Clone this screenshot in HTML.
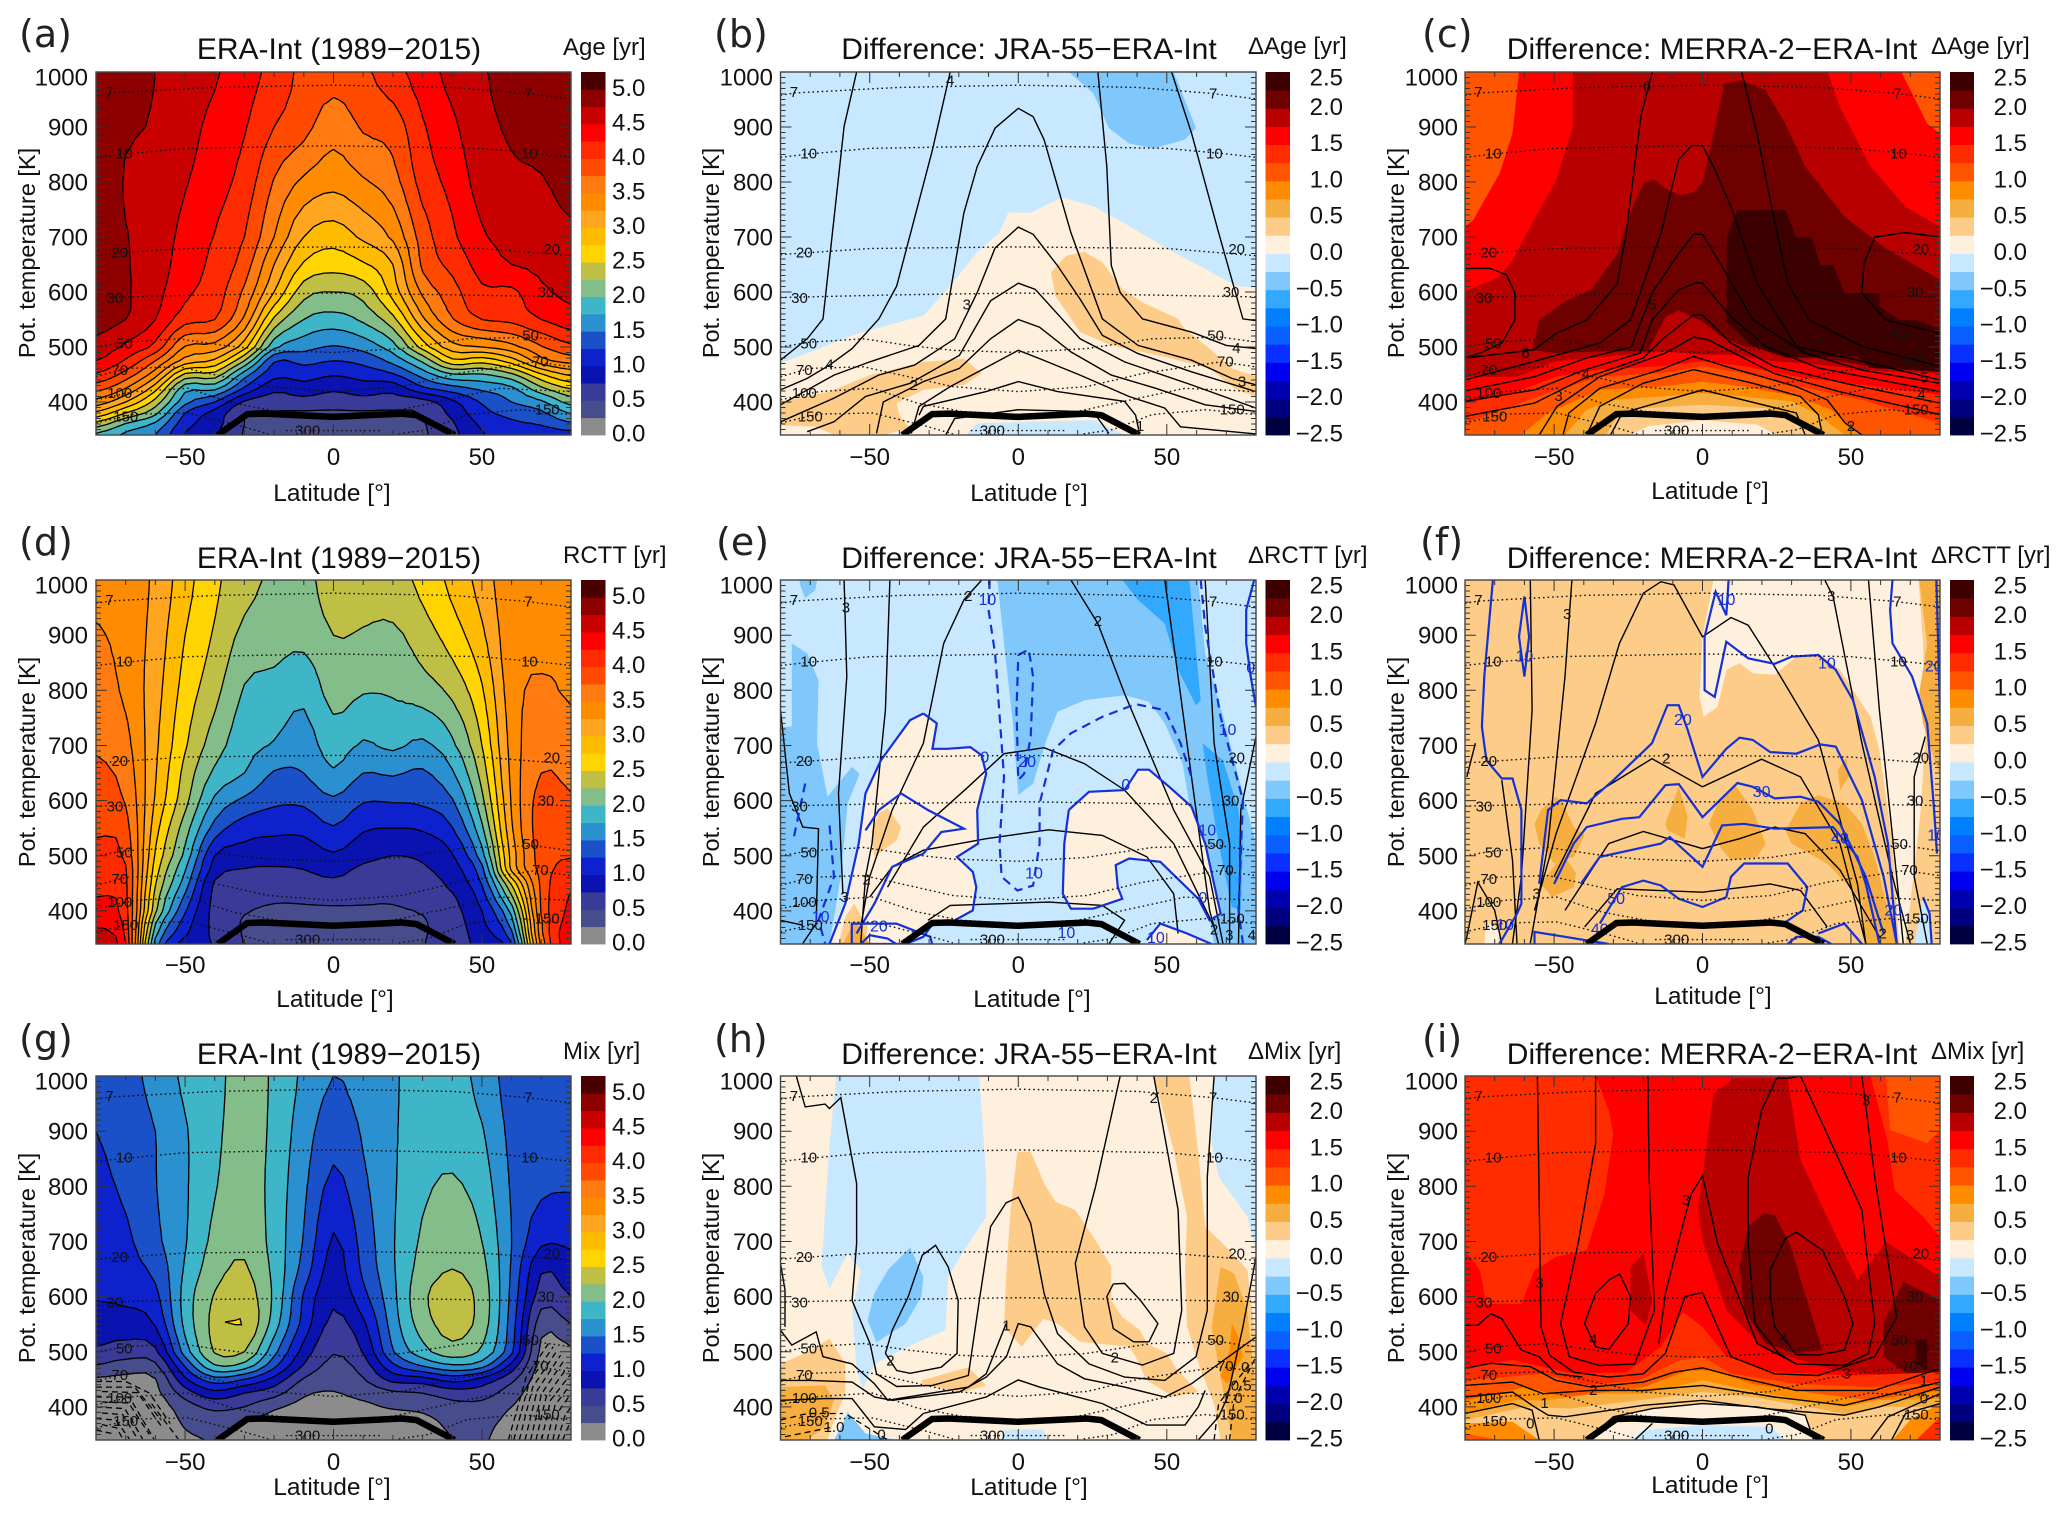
<!DOCTYPE html>
<html lang="en">
<head>
<meta charset="utf-8">
<title>Age of air, RCTT and aging by mixing: ERA-Int and differences</title>
<style>
html,body{margin:0;padding:0;background:#fff}
svg{display:block}
text{font-family:"Liberation Sans",sans-serif;fill:#111}
.ltr{font-family:"DejaVu Sans",sans-serif;font-size:38px;fill:#222}
.ttl{font-size:30px;text-anchor:middle}
.unit{font-size:24px}
.axl{font-size:24.5px;text-anchor:middle}
.axy{font-size:23.5px;text-anchor:middle}
.tick{font-size:24px}
.iso{font-size:15px;text-anchor:middle;fill:#111}
.blue{font-size:16px;text-anchor:middle;fill:#1430d8}
</style>
</head>
<body>
<svg id="fig" xmlns="http://www.w3.org/2000/svg" width="2067" height="1518" viewBox="0 0 2067 1518">
<rect width="2067" height="1518" fill="#fff"/>
<g id="plots"></g>

<g>
<text class="ltr" x="19" y="47">(a)</text>
<text class="ttl" x="339" y="59">ERA-Int (1989−2015)</text>
<text class="unit" x="563" y="55">Age [yr]</text>
<text class="axl" x="332" y="501">Latitude [°]</text>
<text class="axy" transform="translate(35,253) rotate(-90)">Pot. temperature [K]</text>
</g>
<g>
<text class="ltr" x="714" y="47">(b)</text>
<text class="ttl" x="1029" y="59">Difference: JRA-55−ERA-Int</text>
<text class="unit" x="1248" y="54">ΔAge [yr]</text>
<text class="axl" x="1029" y="501">Latitude [°]</text>
<text class="axy" transform="translate(719,253) rotate(-90)">Pot. temperature [K]</text>
</g>
<g>
<text class="ltr" x="1422" y="47">(c)</text>
<text class="ttl" x="1712" y="59">Difference: MERRA-2−ERA-Int</text>
<text class="unit" x="1931" y="54">ΔAge [yr]</text>
<text class="axl" x="1710" y="499">Latitude [°]</text>
<text class="axy" transform="translate(1404,253) rotate(-90)">Pot. temperature [K]</text>
</g>
<g>
<text class="ltr" x="19" y="555">(d)</text>
<text class="ttl" x="339" y="568">ERA-Int (1989−2015)</text>
<text class="unit" x="563" y="563">RCTT [yr]</text>
<text class="axl" x="335" y="1007">Latitude [°]</text>
<text class="axy" transform="translate(35,762) rotate(-90)">Pot. temperature [K]</text>
</g>
<g>
<text class="ltr" x="716" y="555">(e)</text>
<text class="ttl" x="1029" y="568">Difference: JRA-55−ERA-Int</text>
<text class="unit" x="1248" y="563">ΔRCTT [yr]</text>
<text class="axl" x="1032" y="1007">Latitude [°]</text>
<text class="axy" transform="translate(719,762) rotate(-90)">Pot. temperature [K]</text>
</g>
<g>
<text class="ltr" x="1420" y="555">(f)</text>
<text class="ttl" x="1712" y="568">Difference: MERRA-2−ERA-Int</text>
<text class="unit" x="1931" y="563">ΔRCTT [yr]</text>
<text class="axl" x="1713" y="1004">Latitude [°]</text>
<text class="axy" transform="translate(1404,762) rotate(-90)">Pot. temperature [K]</text>
</g>
<g>
<text class="ltr" x="19" y="1052">(g)</text>
<text class="ttl" x="339" y="1064">ERA-Int (1989−2015)</text>
<text class="unit" x="563" y="1059">Mix [yr]</text>
<text class="axl" x="332" y="1495">Latitude [°]</text>
<text class="axy" transform="translate(35,1258) rotate(-90)">Pot. temperature [K]</text>
</g>
<g>
<text class="ltr" x="714" y="1052">(h)</text>
<text class="ttl" x="1029" y="1064">Difference: JRA-55−ERA-Int</text>
<text class="unit" x="1248" y="1059">ΔMix [yr]</text>
<text class="axl" x="1029" y="1495">Latitude [°]</text>
<text class="axy" transform="translate(719,1258) rotate(-90)">Pot. temperature [K]</text>
</g>
<g>
<text class="ltr" x="1422" y="1052">(i)</text>
<text class="ttl" x="1712" y="1064">Difference: MERRA-2−ERA-Int</text>
<text class="unit" x="1931" y="1059">ΔMix [yr]</text>
<text class="axl" x="1710" y="1493">Latitude [°]</text>
<text class="axy" transform="translate(1404,1258) rotate(-90)">Pot. temperature [K]</text>
</g>
</svg>

<script>
/* ---------- shared axes and tick data ---------- */
const latitudes=[-80,-70,-60,-50,-40,-30,-20,-10,0,10,20,30,40,50,60,70,80];
const thetaLevels=[340,360,380,400,425,450,475,500,550,600,650,700,800,900,1000];
const xTickValues=[-50,0,50];
const xTickLabels=["−50","0","50"];
const yTickValues=[400,500,600,700,800,900,1000];
const seqTickValues=[0,0.5,1,1.5,2,2.5,3,3.5,4,4.5,5];
const seqTickLabels=["0.0","0.5","1.0","1.5","2.0","2.5","3.0","3.5","4.0","4.5","5.0"];
const divTickValues=[-2.5,-2,-1.5,-1,-0.5,0,0.5,1,1.5,2,2.5];
const divTickLabels=["−2.5","−2.0","−1.5","−1.0","−0.5","0.0","0.5","1.0","1.5","2.0","2.5"];
const seqColors=["#8c8c8c","#474c8c","#3a3a98","#0a12b0","#0d22cc","#1a50c8","#2a90d0","#3fb5c8","#82bd8a","#bfbf45","#ffd400","#ffbb00","#ffa520","#ff8c00","#ff7a10","#ff4a00","#ff2a00","#ff0000","#c80000","#8e0000","#4a0000"];
const divColors=["#000040","#000080","#0000b0","#0000f0","#0a30ff","#0a60ff","#0080ff","#33a8ff","#80c8fb","#c8e8ff","#fef0dc","#fdcc88","#f5ae3f","#ff8c00","#ff5500","#ff2c00","#ff0000","#b80000","#6e0000","#3d0000"];

/* ---------- pressure isolines (lat, theta pairs) and their labels (hPa) ---------- */
const pressureLines=[
[-80,958,-75,962,-40,972,0,976,40,972,65,961,80,951],
[-80,845,-70,851,-50,861,0,866,50,861,70,851,80,845],
[-80,668,-50,679,0,682,50,679,80,666],
[-80,590,-40,595,0,598,40,595,80,591],
[-80,500,-70,509,-52,515,-37,503,-22,494,0,490,23,497,45,515,68,518,80,509],
[-80,446,-70,461,-52,464,-37,446,-22,428,0,419,23,428,42,452,68,473,80,464],
[-80,404,-67,419,-49,425,-34,398,-19,383,0,377,20,383,38,404,56,425,80,419],
[-80,362,-67,378,-49,380,-31,356,-22,342],
[22,342,32,350,45,377,63,386,80,377],
[-16,348,16,348]];
const pressureLabelText=["7","10","20","30","50","70","100","150","300","7","10","20","30","50","70","150"];
const pressureLabelLat=[-75.5,-70.5,-72,-73.6,-70.5,-72,-72,-70,-8.7,65.6,66,73.5,71.6,66.4,69.7,72];
const pressureLabelTheta=[964,852,672,589,506,458,416,374,348,961,852,678,600,521,474,386];
const tropopauseLats=[-39,-29,-23.5,0,23,28,40.8];
const tropopauseThetas=[340,378,379,373,379,376,340];

/* ---------- ERA-Int fields: one row per latitude, one value per theta level ---------- */
const ageField=[
[1.95,2.4,2.95,3.4,3.85,4.22,4.5,4.67,4.85,4.9,4.92,4.92,4.95,4.9,4.9],
[1.7,1.98,2.5,3.0,3.5,3.9,4.22,4.45,4.75,4.78,4.77,4.76,4.73,4.78,4.83],
[1.5,1.7,2.07,2.4,2.85,3.35,3.75,4.17,4.5,4.58,4.62,4.65,4.7,4.73,4.75],
[.98,1.1,1.25,1.58,1.85,2.45,3.15,3.48,4.1,4.3,4.38,4.42,4.52,4.6,4.65],
[.78,.85,.92,1.25,1.82,2.4,2.95,3.4,4.0,4.12,4.18,4.24,4.35,4.42,4.53],
[.48,.5,.52,.72,1.22,1.62,2.25,2.85,3.45,3.7,3.88,4.0,4.15,4.27,4.35],
[.42,.45,.48,.62,.82,1.08,1.28,1.82,2.45,3.0,3.25,3.5,3.73,4.0,4.17],
[.38,.4,.47,.65,.9,1.1,1.33,1.6,2.0,2.35,2.72,3.0,3.45,3.83,3.93],
[.35,.4,.47,.6,.8,1.02,1.25,1.48,1.9,2.25,2.6,2.87,3.33,3.6,3.85],
[.38,.4,.47,.65,.88,1.1,1.33,1.6,2.05,2.35,2.72,3.05,3.47,3.78,3.95],
[.42,.45,.47,.62,.85,1.22,1.58,1.9,2.42,2.85,3.0,3.3,3.65,3.86,4.15],
[.47,.48,.52,.65,1.2,1.6,2.05,2.6,3.2,3.55,3.8,3.87,4.1,4.22,4.38],
[.68,.72,.82,.95,1.4,1.97,2.68,3.15,3.73,3.9,4.07,4.2,4.33,4.45,4.58],
[.98,1.05,1.17,1.28,1.56,1.98,2.6,3.25,4.0,4.2,4.35,4.47,4.6,4.68,4.73],
[1.1,1.2,1.33,1.5,1.7,2.2,2.88,3.42,4.07,4.2,4.5,4.58,4.7,4.78,4.82],
[1.1,1.27,1.45,1.7,2.2,2.72,3.4,3.73,4.25,4.45,4.56,4.62,4.73,4.85,4.9],
[1.15,1.45,1.77,2.1,2.52,3.05,3.6,3.95,4.4,4.55,4.62,4.7,4.85,4.95,4.98]];
const rcttField=[
[4.6,4.55,4.45,4.35,4.25,4.17,4.1,4.05,3.97,3.87,3.8,3.72,3.62,3.52,3.45],
[4.25,4.2,4.15,4.1,4.07,4.05,4.02,3.95,3.85,3.73,3.65,3.58,3.45,3.42,3.4],
[1.65,1.85,2.05,2.3,2.4,2.52,2.62,2.72,2.85,2.97,3.02,3.05,3.1,3.15,3.2],
[.9,1.05,1.15,1.28,1.45,1.63,1.77,1.93,2.12,2.33,2.42,2.53,2.65,2.75,2.85],
[.74,.7,.68,.67,.68,.72,.88,1.0,1.4,1.7,1.95,2.12,2.33,2.47,2.55],
[.49,.48,.48,.52,.6,.66,.74,.9,1.12,1.45,1.75,1.85,1.98,2.18,2.35],
[.33,.37,.42,.46,.54,.63,.73,.84,1.07,1.3,1.48,1.73,1.92,2.1,2.2],
[.38,.4,.43,.46,.55,.65,.75,.85,1.07,1.3,1.5,1.63,1.82,2.07,2.17],
[.35,.38,.42,.46,.58,.7,.83,.97,1.23,1.46,1.72,1.87,2.1,2.25,2.38],
[.36,.39,.42,.47,.55,.65,.7,.84,1.03,1.27,1.5,1.72,2.02,2.23,2.33],
[.4,.42,.45,.48,.53,.62,.68,.75,1.0,1.27,1.53,1.8,2.03,2.2,2.4],
[.49,.48,.48,.52,.6,.65,.72,.8,1.03,1.3,1.47,1.7,2.13,2.38,2.57],
[.63,.63,.65,.68,.72,.82,.9,.98,1.24,1.48,1.72,1.95,2.32,2.62,2.82],
[.85,.9,.95,1.0,1.12,1.27,1.42,1.65,1.95,2.18,2.35,2.5,2.72,2.95,3.1],
[1.25,1.45,1.65,1.85,2.2,2.55,3.05,3.1,3.22,3.28,3.32,3.35,3.4,3.42,3.45],
[3.6,3.7,3.72,3.78,3.8,3.82,3.85,3.87,3.88,3.85,3.75,3.65,3.53,3.45,3.45],
[4.45,4.42,4.35,4.3,4.27,4.2,4.1,3.98,3.87,3.78,3.68,3.6,3.47,3.46,3.45]];
const mixField=[
[.1,.1,.1,.1,.15,.22,.49,.72,.87,1.02,1.08,1.12,1.18,1.25,1.35],
[.1,.1,.1,.1,.15,.2,.38,.65,.87,1.06,1.15,1.2,1.3,1.38,1.42],
[.1,.1,.1,.12,.18,.24,.45,.7,1.02,1.18,1.32,1.44,1.49,1.5,1.58],
[.2,.25,.3,.38,.62,.95,1.28,1.62,1.82,1.85,1.78,1.73,1.72,1.73,1.8],
[.25,.33,.42,.57,.92,1.4,1.98,2.27,2.33,2.27,2.15,2.07,1.98,1.93,1.9],
[.1,.18,.3,.5,.75,1.25,1.9,2.25,2.48,2.38,2.28,2.2,2.15,2.15,2.15],
[.05,.1,.18,.3,.6,.92,1.32,1.58,1.87,1.95,1.93,1.9,1.9,1.93,1.95],
[.1,.1,.13,.18,.29,.48,.73,.9,1.15,1.22,1.4,1.48,1.55,1.62,1.7],
[.1,.1,.12,.18,.24,.32,.43,.52,.68,.8,.9,.97,1.18,1.35,1.5],
[.1,.1,.13,.2,.32,.48,.62,.77,.95,1.17,1.3,1.35,1.45,1.53,1.6],
[.05,.08,.15,.28,.45,.83,1.2,1.48,1.62,1.68,1.72,1.73,1.72,1.72,1.72],
[.02,.08,.2,.32,.5,.9,1.52,1.9,2.12,2.2,2.1,2.04,1.95,1.88,1.85],
[.25,.3,.35,.42,.63,1.1,1.72,2.15,2.35,2.35,2.25,2.17,2.03,1.92,1.88],
[.3,.33,.38,.42,.62,.93,1.6,1.95,2.13,2.15,2.08,2.0,1.88,1.77,1.65],
[.05,.1,.18,.25,.36,.57,.92,1.3,1.38,1.43,1.47,1.5,1.47,1.43,1.4],
[.05,.07,.08,.1,.1,.12,.15,.18,.35,.62,.78,1.05,1.3,1.35,1.35],
[.05,.05,.07,.08,.1,.12,.15,.2,.5,.75,.9,1.05,1.27,1.32,1.35]];
/* narrow isolated maximum in panel g: value band, then lat/theta ring */
const mixPeakBandValue=2.5;
const mixPeak=[-36.5,554,-33,557,-31.5,560,-31,549,-33,549];
/* dashed low-value hatching in the grey parts of panel g */
const mixDashedLines=[
[-80,436,-67,436,-58,376],[-80,418,-68.8,418,-60.5,342],[-80,400,-70.3,397,-64.3,342],[-80,379,-73.3,376,-68.8,342],[-80,358,-74.8,352],[-61.3,406,-52.3,342],
[-80,446,-70,446,-62,425,-55,370],[-78,428,-66,426,-58,365],[-78,409,-69,407,-62,350],[-78,389,-71,386,-66,342],[-78,368,-73,362,-71,342],
[58.9,340,64.9,454,72.4,515],[62.6,340,67.1,436,75.4,503],[66.4,340,70.1,424,77.6,484],[70.1,340,73.1,412,80,460],[73.9,340,76.1,394,80,424],[77.2,340,80,376],
[60.7,340,66,445,74,509],[64.5,340,68.6,430,76.5,494],[68.2,340,71.6,418,78.8,472],[72,340,74.6,403,80,442],[75.5,340,78,385,80,400]];

/* ---------- difference panels: [band lower value, lat/theta outline] painted in order ---------- */
const jraAgeBackground=-0.25;
const jraAgeFills=[
[0,[-80,470,-54.4,524,-31.9,557,-22.9,611,-13.8,672,-6.3,708,-3.3,745,4.2,744,14.7,772,25.3,756,37.3,720,49.3,681,62.9,642,73.4,611,80,608,80,340,-80,340]],
[0.25,[16.2,666,22.3,673,28.3,654,35,605,41.8,581,53.8,551,56,533,64.4,497,71.9,461,80,446,80,410,73.4,422,64.4,461,49.3,482,31.3,503,20.8,527,12.5,593,11,636]],
[0.25,[-80,401,-63.5,419,-50,449,-31.9,473,-18.3,479,-12.3,452,-18.3,431,-31.9,422,-40.9,398,-40,376,-36.4,352,-45.4,340,-62,340,-68,355,-80,358]],
[-0.25,[-17.6,340,-13.8,361,25.3,367,35.8,340]],
[-0.5,[17,1000,52.3,1000,58.3,919,59.8,898,56,877,45.6,861,37.3,870,30.5,898,25.3,961]]];
const jraAgeLines=[
[-54.4,1000,-58.6,901,-65.7,551,-71,515,-80,476],
[51.6,1000,58.3,889,67.4,708,75.6,551,80,548],
[-22.9,1000,-28.9,858,-40.9,611,-46.9,551,-55.9,497,-63.5,467,-71,443,-80,422],
[26.8,1000,29.8,828,31.3,648,34.3,599,41.8,551,58.3,527,70,503,80,497],
[-80,395,-62,449,-50,473,-33.4,503,-24.4,551,-18.3,744,-13.8,828,-7.8,898,0,934,5,919,8.7,877,17.7,708,28.3,551,40.3,503,58.3,476,71.9,443,80,431],
[-80,364,-62,407,-47,449,-34.9,467,-21.4,515,-13.8,599,-7.8,680,0,718,5,705,13.2,648,20.8,587,28.3,521,40.3,488,58.3,455,80,419],
[-71,346,-62,364,-51.4,410,-36.4,434,-19.8,485,-9.3,584,0,616,5.7,605,20.8,515,35.8,473,58.3,431,80,389],
[-47.7,343,-45.4,400,-31.9,437,-19.8,461,-9.3,515,0,550,7.2,536,17.7,491,31.3,449,46.3,425,62.9,395,80,383],
[-36,343,-33.4,392,-22.9,428,-9.3,467,0,494,7.2,479,20.8,449,37.3,410,49.3,389,54.6,355,80,342],
[-33.4,376,-31.9,392,-10.8,419,0,437,13.2,419,35.8,401,39.5,376,40.5,350],
[-24.4,340,-21.4,370,0,386,25.3,382,30.5,343]];
const jraAgeLabelText=["4","4","4","3","3","2","1"];
const jraAgeLabelLat=[-22.9,-63.5,73.4,-17.3,75.3,-35.2,41];
const jraAgeLabelTheta=[985,468,498,577,437,431,356];

const merraAgeBackground=1.5;
const merraAgeFills=[
[1,[-80,1000,-61.8,1000,-64,888,-68.4,815,-77.2,731,-80,719]],
[1,[67,1000,80,1000,80,888,75.7,906,70.6,961]],
[1.75,[-43.7,1000,42.2,1000,46.3,936,56.6,828,68.4,755,80,719,80,340,-80,340,-80,601,-68.4,628,-64,658,-58,719,-49.3,803,-43.7,900]],
[2,[-57.4,495,-55.1,549,-46.3,583,-37.5,604,-28.7,670,-23.5,755,-19.9,797,-16.2,805,-12.5,788,-7.4,776,-2.9,782,0,800,3.7,888,7.4,979,13.2,985,21.3,967,27.9,906,34.6,828,47.8,737,61,682,80,622,80,459,56.6,465,39,480,24.3,495,14,501,6.6,519,0,546,-8.1,567,-12.5,555,-18.4,492,-34.6,492,-49.3,489]],
[2.25,[8.1,698,11.8,749,27.9,749,31.6,699,36.8,699,39.7,649,44.1,649,47.8,598,59.6,598,59.6,574,66.2,549,72.5,549,80,531,80,455,56.6,462,52.2,483,28.7,480,16.9,501,8.1,546]],
[1.5,[-80,446,-62.5,446,-49.3,474,-25.7,486,-12.5,492,0,486,9.6,486,24.3,474,39,468,61,455,80,452,80,340,-80,340]],
[1.25,[-80,398,-64,416,-49.3,446,-34.6,459,-14,465,0,474,14,465,31.6,446,53.7,431,80,413,80,340,-80,340]],
[1,[-80,362,-64,392,-52.2,416,-34.6,446,-14,452,0,465,14,452,33,428,53.7,404,68.4,380,80,362,80,340,-80,340]],
[0.75,[-61,340,-52.2,380,-34.6,422,-14,428,0,437,14,428,31.6,410,43.4,386,50.7,350,53.7,340]],
[0.5,[-46.3,340,-39,386,-30,404,-14,410,0,416,14,410,30,401,39,377,47.8,340]],
[0.25,[-32.4,340,-28.7,374,-19.9,389,0,395,21.3,389,33,368,37.5,340]],
[0,[-24.3,340,-18.4,356,0,367,18.4,359,25,340]]];
const merraAgeLines=[
[-16.9,1000,-20.7,920,-25.7,708,-28.7,615,-39,549,-49.3,525,-56.7,495,-80,480],
[13.2,1000,18.4,888,22.8,767,28.7,616,36,549,53.7,501,80,465],
[-80,440,-56.6,474,-34.6,507,-24.3,549,-14,706,-8.1,840,-3.7,866,0,866,3.7,828,9.6,755,18.4,616,31.6,501,53.7,474,80,440],
[-80,420,-56.6,446,-39,480,-24,500,-17,598,-8,670,-3,705,0,705,6.6,646,17,549,34.6,489,53.7,458,80,434],
[-80,401,-56.6,422,-40,458,-21,489,-17,549,-8,604,-2,617,0,616,9.6,555,21.3,501,39,462,80,419],
[-80,374,-56.6,398,-40,443,-20,480,-12.5,519,-3,558,0,558,9.6,507,24,465,48,434,80,398],
[-55,340,-49,392,-34.6,446,-12.5,489,-3,518,2,513,24,452,46,419,80,377],
[-47,340,-45,380,-34.6,425,-14,459,-3,483,9.6,462,31.6,428,42,404,48,362,53.7,340],
[-39,340,-34.6,392,-20,434,-3,459,17,434,33,410,39,377,40.4,340],
[-31,340,-27,380,0,422,31.6,380,34.6,340],
[-80,643,-71.6,643,-66,631,-63.2,598,-63.2,549,-67.6,507,-75,489,-80,480],
[80,700,68.4,708,58,700,54.4,652,53.7,598,61.8,549,80,525]];
const merraAgeLabelText=["6","5","6","4","3","6","5","4","2"];
const merraAgeLabelLat=[-18.7,-16.9,-59.6,-39.3,-48.5,72.5,74.7,73.8,50];
const merraAgeLabelTheta=[975,577,489,451,411,486,445,414,356];

const jraRcttBackground=-0.25;
const jraRcttLeftZero=[-31.9,758,-27.4,740,-28.9,694,-23.9,694,-16.1,697,-12.3,682,-10.8,649,-13.8,583,-13.5,522,-20.6,498,-15.3,471,-14.1,443,-15.3,401,-21.4,383,-28.1,382,-31.9,353,-37.9,340,-63.5,340,-58.2,413,-53.7,522,-51.4,613,-46.2,673,-36.4,746];
const jraRcttRightZero=[17,583,23.8,616,35.8,619,40.3,656,44,656,50.8,625,58.3,589,62.9,522,68.1,395,64.4,383,60.6,422,47.8,489,37.3,495,32.8,483,33.5,443,35,422,25.3,404,17.7,404,15,431,15.5,522];
const jraRcttFills=[
[-0.5,[-73.7,1000,-67.7,1000,-68.3,982,-71.7,967,-73.2,988]],
[-0.5,[-76.2,885,-71,867,-67.2,818,-67.7,704,-64.2,607,-56,661,-53.4,649,-57.4,595,-59.7,462,-63.5,340,-80,340,-80,734,-76.2,734]],
[-0.5,[-7,1000,60.6,1000,62.9,867,69.6,740,74.1,643,80,522,80,340,65.9,340,61.4,474,55.3,667,49.3,740,44,779,35.8,791,22.3,782,13.2,761,9.5,710,5,631,0,610,-1.8,740,-4.8,885]],
[-0.75,[35,1000,57.6,1000,61.4,782,59.8,773,53.8,837,49.3,921,40.3,964]],
[-0.75,[62,704,68.9,673,74.1,583,75.6,522,74.9,401,71.9,407,67.4,522,63.6,643]],
[0,jraRcttLeftZero],
[0,jraRcttRightZero],
[0,[43.3,347,47.8,377,56.8,359,65,340,43.3,340]],
[0.25,[-43.9,586,-39.4,552,-40.9,528,-48.4,498,-49.2,546,-46.9,577]],
[0.25,[-55.2,413,-50.7,371,-51.4,340,-60.5,340,-58.2,389]],
[0.5,[-55,383,-50,340,-59,340]]];
const jraRcttLines=[
[-58.6,1000,-57.7,825,-60.5,613,-59,431],
[-43.2,1000,-44.7,764,-49.2,522,-51.4,462,-53,340],
[-12.3,1000,-18.3,964,-25.1,885,-31.9,704,-42.4,583,-50,462,-53,371],
[-44,443,-31.9,552,-16.8,625,-4.8,685,8.7,696,22.3,667,35.8,619,52.3,522,65.9,371],
[-50,425,-42.4,480,-31.9,510,-10.8,531,10.2,547,28.3,537,43.3,498,52.3,431,53.8,359],
[-30.4,383,-22.9,410,10.2,416,28.3,410,35.8,383,30.5,340],
[17.7,1000,26.8,921,35.8,794,52.3,583,64.4,462,68.9,340],
[49.3,1000,53.8,825,58.3,643,64.4,401,67.4,340],
[62.9,1000,65.9,704,71.1,522,71.1,340],
[-80,764,-77,613,-72.5,552,-67.2,549,-68,377,-72.5,341],
[80,716,74.9,583,74.1,341],
[-80,383,-72.5,374]];
const jraRcttBlueSolid=[
jraRcttLeftZero.concat(jraRcttLeftZero.slice(0,2)),
jraRcttRightZero.concat(jraRcttRightZero.slice(0,2)),
[-51.4,546,-46.9,583,-39.4,613,-30.4,583,-18.3,549,-25.9,543,-31.9,504,-42.4,480,-48.4,413,-54.4,359],
[79.4,1000,76.7,946,76.7,885,78.2,825,80,770],
[-53,340,-50,356,-44,350,-41,340],
[-56,340,-56,377,-41,377,-29.6,353,-29,340],
[43.3,347,47.8,377,56.8,359,65,340]];
const jraRcttBlueDashed=[
[-9.6,1000,-10,946,-7.8,867,-4.8,643,-6.3,522,-5.6,462,-.3,437,5,446,7.2,522,7.2,595,11.7,691,17.7,722,28.3,752,39.5,775,49.3,764,54.6,704,58.3,643],
[0,864,3.5,874,5,825,4.2,716,2,649,0,637,-.6,764,0,864],
[61.4,1000,62.9,915,68.1,752,75.6,601,74.1,401,75.6,341],
[-63.5,555,-62,462,-67.2,383,-65,341],
[-71.7,631,-75.5,534]];
const jraRcttLabelText=["3","3","2","2","2","2","3","4"];
const jraRcttLabelLat=[-58,-58.5,-16.8,26.8,-51,65.9,71,78.6];
const jraRcttLabelTheta=[950,425,971,926,457,366,356,356];
const jraRcttBlueLabelText=["10","0","20","10","0","0","0","10","10","10","10","10","20"];
const jraRcttBlueLabelLat=[-10.4,-11.3,3,5.3,62.1,36.2,78.2,70.4,63.6,-66.5,46.3,16.2,-46.9];
const jraRcttBlueLabelTheta=[964,678,670,468,423,628,840,728,546,389,351,360,372];

const merraRcttBackground=0.25;
const merraRcttFills=[
[0,[3.7,1000,72.8,1000,74.3,885,75,716,73.5,583,70.6,443,68.4,341,66.2,341,64,522,59.6,691,56.6,752,52.2,788,46.3,837,39,867,31.6,861,24.3,828,16.9,831,12.5,849,8.1,837,5.1,770,.4,752,-1,788,0,897]],
[0,[-72.8,383,-68.4,365,-69,340,-73.5,340]],
[-0.25,[74.3,425,76.5,395,77.2,340,71.3,340]],
[0.5,[73,1000,80,1000,80,643,74.3,740,72.8,788,75.7,885]],
[0.5,[-49.3,607,-47,595,-43.4,552,-39.7,537,-43.4,498,-50,486,-55,522,-56.6,558,-54.4,583]],
[0.5,[-46.3,498,-42.6,468,-43.4,443,-50.7,425,-54.4,449,-49.3,486]],
[0.5,[-8,625,-5,570,-6,531,-11.8,546,-12.5,558]],
[0.5,[11,628,16.9,583,21.3,522,18.4,498,9.6,492,5.9,516,2.2,558,5.1,595]],
[0.5,[33,595,39,610,47.8,595,53.7,558,58,498,62.5,401,66.2,341,55,341,53.7,419,42,486,30,522,28,546]],
[0.5,[45.6,655,48.5,679,49.3,643,46.3,619]]];
const merraRcttLines=[
[-80,340,-79.4,353,-75.7,452,-70,401,-67.6,340],
[-76.5,704,-79.4,643],
[-56.6,401,-49.3,540,-36,740,-28,885,-19.9,976,-14,997,-9.6,991,0,897,9.6,932,15.4,918,24.3,843,39,710,52.2,449,55,340],
[-50,462,-36,613,-17,676,0,625,19.9,675,33,643,46.3,522,55,341],
[-46.3,401,-31.6,522,-19.9,544,0,513,12.5,531,24.3,552,34.6,540,46.3,474,59.6,353],
[-39.7,371,-28.7,440,0,434,22.8,449,33,437,42,371],
[41.2,1000,44,970,53.7,704,64,462,70,341],
[55.9,1000,59.6,764,65.4,462,67.6,341],
[-44,1000,-46.3,825,-52,522,-58,341],
[-58,1000,-57.4,764,-61,462,-64,341],
[75,716,71.3,643,71.3,462,75.7,341],
[-67.6,637,-64,492,-62.5,341]];
const merraRcttBlueSolid=[
[-70.6,1000,-73.5,825,-74.3,734,-72.8,673,-67.6,640,-64,640,-61,583,-61,413,-62.5,395,-68.4,340],
[-60,970,-61.8,897,-60,825,-58.4,897,-60,970],
[8.8,1000,8,936,4.4,979,.7,897,.7,800,4.1,788,8,888,15.4,858,24.3,848,30,861,39,864,44.9,837,50.7,782,58,643,62.5,522,65.4,341],
[-55,449,-52,583,-47.8,601,-39,595,-30,637,-17,704,-11.8,773,-8,773,-5,728,0,643,8,694,12.5,714,16.9,710,22.8,688,31.6,685,39.7,702,44.9,698,53.7,601,61,462,65.4,341],
[-50,449,-43.4,522,-39,552,-27.2,567,-21.3,570,-12.5,628,-8,630,0,570,11.8,632,16.9,625,24.3,604,33,607,39,598,46.3,558,55,462,61,359],
[-41,449,-34.6,498,-14,522,-11,534,0,480,6.6,555,14,558,24.3,549,44,552,52.2,498,55,449,59.6,341],
[-34.6,377,-27.2,443,-19.9,455,-14,446,-8,422,0,407,8,425,9.6,462,14,486,28.7,486,35.3,443,33.8,401,27.2,377],
[64,1000,63.2,946,64,885,70.6,825,75.7,740,78,583,79,504],
[78.8,1000,80,760],
[-56.6,340,-56.6,362,-46.3,353,-31.6,340],
[28.7,340,31.6,353,39,353,43.4,340],
[39,359,47.8,377,53.7,340],
[74.3,425,76.5,395,77.2,340]];
const merraRcttLabelText=["3","3","2","3","2","3"];
const merraRcttLabelLat=[-45.6,43.4,-12.2,-55.9,60.7,69.9];
const merraRcttLabelTheta=[938,971,676,432,359,356];
const merraRcttBlueLabelText=["10","10","10","20","30","40","50","20","20","10","40","10"];
const merraRcttBlueLabelLat=[8.1,-60,41.9,-6.6,19.9,46.3,-29.1,64.3,77.9,78.7,-34.6,-66.5];
const merraRcttBlueLabelTheta=[964,861,849,746,616,531,422,401,843,537,366,374];

const jraMixBackground=0;
const jraMixFills=[
[-0.25,[-61.2,1000,-13.1,1000,-10.8,817,-10.8,745,-16.8,696,-23.6,636,-24.4,539,-34.9,515,-48.4,478,-52.2,433,-54.4,466,-55.9,575,-52.9,648,-57.4,678,-63.5,615,-66.2,654,-63.5,878]],
[-0.25,[65.9,1000,80,1000,80,684,77.1,745,67.4,817,65.1,878]],
[-0.5,[-36.4,689,-31.9,636,-32.6,600,-37.9,551,-47.7,517,-50.7,557,-48.4,606,-43.9,648]],
[-0.5,[-57.4,391,-51.4,352,-40.9,340,-62,340,-59,370]],
[-0.25,[-4.8,359,8.7,359,9.5,340,-4.8,340]],
[0.25,[45.6,1000,57.6,1000,60.6,860,62.9,727,71.1,684,77.1,648,80,515,80,340,68.1,340,65.9,406,61.4,466,56.8,545,56.1,648,56.8,745,52.3,866]],
[0.25,[-.3,863,4.2,863,8.7,805,12.5,772,19.2,757,26,702,31.3,654,31.3,593,35,563,41,539,43.3,515,50,497,53.1,470,60.6,427,52.3,418,43.3,448,39.5,491,37.3,509,20.8,518,13.2,551,8.4,560,1.2,509,-4.8,545,-4.1,636,-2.6,757]],
[0,[32,624,35.8,624,43.3,576,47,551,43.3,518,41,551,35,576,31.3,593]],
[0.25,[-80,478,-69.5,503,-63.5,524,-58.2,478,-58.2,424,-62,376,-64.2,340,-80,340]],
[0.25,[-32.6,448,-16.8,472,-10.8,439,-18.3,427,-31.9,439]],
[0.5,[-80,436,-65,439,-62,412,-65,364,-71,340,-80,340]],
[0.5,[68.1,654,72.6,642,77.1,575,79.4,454,80,340,71.9,340,68.1,454,65.1,545]],
[0.75,[71.9,551,74.1,527,75.6,491,70.4,442,68.1,454,71.1,503]]];
const jraMixLines=[
[-74.7,1000,-71.7,944,-65,949,-63.5,941,-59.7,961,-54.4,805,-54.4,696,-55.9,593,-49.9,515,-47.7,460,-40.9,437,-28.9,439,-16.8,457,-13.1,593,-9.3,727,-4.1,770,0,780,4.2,733,8.7,606,13.2,533,23.8,478,35.8,454,49.3,448,59.8,491,63.6,575,63.6,817,65.9,1000],
[34.3,1000,26,799,19.2,660,22.3,545,28.3,497,41.8,476,52.3,497,55,575,53.8,757,45.6,1000],
[-44.7,497,-40.9,466,-36.4,461,-25.9,472,-20.6,497,-20.2,593,-23.6,654,-27.8,693,-32.3,675,-37.1,599,-42.4,539,-44.7,497],
[32,623,35.8,624,41,594,47,551,44,518,38.8,518,32,542,29.8,600,32,623],
[-80,539,-76.2,512,-68,536,-65.7,491,-55.9,478,-48.4,442,-43.9,412,-16.8,436,-10.8,460,-4.1,551],
[-80,448,-69.5,448,-55.9,445,-48.4,418,-42.4,412,-19.8,427,-10.8,454,-4,491,0,551,4.2,545,13.2,478,22.3,451,35.8,436,49.3,418,58.3,442,65.9,472,80,527],
[-80,412,-65,415,-55.9,415,-48.4,364,-37.9,359,-31.9,388,-10.8,418,0,449,7.2,436,28.3,406,43.3,367,56.1,367,60.6,400,62.9,430],
[60.6,340,67.4,382,70.4,418,75.6,545,80,672],
[-80,660,-78.5,612,-78.5,545]];
const jraMixDashed=[
[65.9,340,67.4,406,77.9,478],[71.1,340,72.6,412,80,491],[-80,376,-71,388,-59,388],[-78.5,346,-62,364],[-57.4,385,-43.9,340]];
const jraMixLabelText=["2","2","2","1","0","0","0.5","1.0","1.0","0.5"];
const jraMixLabelLat=[-43,32.5,45.6,-4,-46,76.4,75,72,-62,-67];
const jraMixLabelTheta=[484,490,960,548,350,472,439,416,364,390];

const merraMixBackground=1.5;
const merraMixFills=[
[1.25,[-80,1000,-36,1000,-31.6,938,-30,896,-33,787,-39,684,-49.3,672,-56.6,648,-61,587,-72.8,587,-80,575]],
[1.5,[-80,684,-75,648,-72.8,587,-80,551]],
[1.5,[-53,660,-49.3,648,-52,624]],
[1.25,[56.6,1000,80,1000,80,708,74.3,745,64.7,793,62.5,878]],
[1,[61.8,1000,80,1000,80,902,75.7,878,63.2,902]],
[1.75,[3.7,969,11,996,28.7,996,33,848,41.9,745,52.2,630,61.8,699,80,636,80,442,68.4,454,44.9,466,21.3,503,8.1,575,0,702,-1.5,757]],
[1.75,[-24.3,654,-19.9,678,-16.9,593,-19.1,548,-24.3,575]],
[2,[20.6,751,24.3,748,29.4,696,33.8,618,40.4,503,31.6,497,21.3,515,14,575,12.5,654,15.4,727]],
[2,[61,551,67.6,627,80,594,80,454,71.3,451,61,491]],
[2.25,[72,521,75.7,524,75.7,466,72,478]],
[1.25,[-80,472,-64,485,-43.4,460,-25.7,463,-14,509,-6.6,572,0,545,8.1,491,24.3,463,50.7,457,80,463,80,340,-80,340]],
[1,[-80,448,-53.7,460,-39,439,-21.3,448,-8.1,484,0,491,9.6,460,31.6,442,56.6,436,80,445,80,340,-80,340]],
[0.75,[-80,412,-59.6,436,-46.3,418,-19.9,436,-5,466,3.7,466,16.9,442,39,424,56.6,412,80,430,80,340,-80,340]],
[0.5,[-80,388,-62.5,412,-52.2,412,-36,424,-19.9,424,0,448,21.3,424,47.8,400,59.6,412,80,415,80,340,-80,340]],
[0.25,[-80,376,-59.6,400,-44.9,397,-16.9,415,0,427,16.9,418,39,397,49.3,385,58,400,80,400,80,340,-80,340]],
[0,[-39,340,-30,382,-16.9,397,0,406,18.4,400,34.6,385,37.5,340]],
[-0.25,[-24,340,-19.9,358,0,367,22.8,364,28,340]],
[0.75,[64,340,69.9,376,80,406,80,340]],
[1.25,[72,340,80,382,80,340]],
[0.75,[-80,370,-64,373,-55,340,-80,340]],
[1,[-80,352,-68.4,340,-80,340]]];
const merraMixLines=[
[-55.6,1000,-54.4,545,-51.5,494,-43.4,463,-31.6,454,-19.9,460,-12.5,497,-5.9,600,-3.7,603,0,607,5.1,545,9.6,491,24.3,460,39,457,58,491,65.4,563,58,817,53.7,1000],
[-18.4,1000,-18,817,-16.2,575,-22.8,478,-34.6,475,-44.9,491,-47.8,551,-41.9,696,-36,878,-36,1000],
[-14.7,515,-12.5,606,-5.9,745,-3.7,787,0,819,5.1,696,14,575,18.4,515,31.6,478,47.8,475,55.9,497,58,551,53.7,757,33,1000],
[25,996,19.9,938,15.4,817,15.4,696,17.6,551,25.7,497,31.6,478],
[25,996,29,996,33,1000],
[-27.9,641,-31.6,630,-36,606,-39.7,551,-36,509,-31.6,504,-25,551,-24.3,600,-27.9,641],
[31.6,717,27.9,705,22.8,648,22.8,600,24.3,545,31.6,495,39,494,47.8,503,50.7,551,47.8,600,40.4,684,31.6,717],
[-80,548,-75.7,548,-71.3,569,-67.6,560,-61,503,-55,491,-49.3,460,-40.4,454],
[-80,470,-71.3,479,-58,473,-49.3,448,-37.5,436,-19.9,445,-9.6,463,0,471,9.6,457,31.6,430,58,430,80,470],
[-80,439,-64,445,-53.7,424,-37.5,430,-19.9,430,0,439,24.3,418,47.8,403,64,424,80,445],
[-80,418,-64,427,-56.6,400,-52,385,-46.3,382,-19.9,403,0,412,21.3,397,47.8,385,59.6,400,80,436],
[-80,388,-64,406,-57.4,394,-55,340],
[-39,340,-30,382,-16.9,397,0,406,18.4,400,34.6,385,37.5,340],
[-22.8,340,-16.9,370],
[56.6,340,62.5,382,80,424],
[63.7,340,68.4,388,80,406]];
const merraMixLabelText=["3","3","3","3","4","4","2","1","1","0","0","0"];
const merraMixLabelLat=[-54.9,-5.6,55.1,48.5,-36.8,27.2,-36.8,-53.2,74.6,-58,74.6,22.5];
const merraMixLabelTheta=[625,775,956,461,522,525,431,407,448,370,415,361];

/* ---------- layout of the nine panels ---------- */
const columnLeft=[96,780.5,1465];
const columnRight=[571,1256,1940];
const barLeft=[581,1265.5,1950];
const barRight=[605.5,1290,1974];
const tickRightEdge=[88,773,1458];
const barLabelAnchor=["start","end","end"];
const barLabelX=[612,1343,2027];
const rowTop=[72,580,1076];
const rowBottom=[435,944,1440];
const xTickBaseline=[465,973,1470];

const NS="http://www.w3.org/2000/svg";
const root=document.getElementById("plots");
function node(tag,parent){const el=document.createElementNS(NS,tag);parent.appendChild(el);return el;}
function pathFromPairs(pairs,xs,ys,closed){
  let d="";
  for(let i=0;i<pairs.length;i+=2){d+=(i?"L":"M")+xs(pairs[i]).toFixed(1)+" "+ys(pairs[i+1]).toFixed(1);}
  return d+(closed?"Z":"");
}
function divColor(v){return divColors[Math.round((v+2.5)/0.25)];}
function seqColor(v){return seqColors[Math.round(v/0.25)];}

/* Catmull-Rom refinement of a data vector, so contours read as smooth curves */
const refineSteps=3;
function refineValues(v){
  const out=[];
  for(let i=0;i<v.length-1;i++){
    const a=v[Math.max(i-1,0)],b=v[i],c=v[i+1],d=v[Math.min(i+2,v.length-1)];
    for(let s=0;s<refineSteps;s++){
      const t=s/refineSteps;
      out.push(0.5*(2*b+(c-a)*t+(2*a-5*b+4*c-d)*t*t+(3*b-a-3*c+d)*t*t*t));
    }
  }
  out.push(v[v.length-1]);
  return out;
}
function refineAxis(v){
  const out=[];
  for(let i=0;i<v.length-1;i++){
    for(let s=0;s<refineSteps;s++){out.push(v[i]+(v[i+1]-v[i])*s/refineSteps);}
  }
  out.push(v[v.length-1]);
  return out;
}
function refineField(field){
  const rows=field.map(refineValues);
  const cols=[];
  for(let j=0;j<rows[0].length;j++){
    cols.push(refineValues(rows.map(function(r){return r[j];})));
  }
  return cols; /* cols[j][i]: j theta index, i lat index */
}
const fineLat=refineAxis(latitudes);
const fineTheta=refineAxis(thetaLevels);

/* filled bands and contour lines of a lat-theta field */
function fieldPaths(fine,level,xs,ys){
  let fill="",line="";
  function tri(a,b,c){
    const pts=[a,b,c],out=[],cross=[];
    for(let i=0;i<3;i++){
      const p=pts[i],q=pts[(i+1)%3];
      if(p[2]>=level)out.push(p);
      if((p[2]>=level)!==(q[2]>=level)){
        const t=(level-p[2])/(q[2]-p[2]);
        const r=[p[0]+t*(q[0]-p[0]),p[1]+t*(q[1]-p[1]),level];
        out.push(r);cross.push(r);
      }
    }
    if(out.length>2){
      fill+=out.map((p,i)=>(i?"L":"M")+p[0].toFixed(1)+" "+p[1].toFixed(1)).join("")+"Z";
    }
    if(cross.length===2){
      line+="M"+cross[0][0].toFixed(1)+" "+cross[0][1].toFixed(1)+"L"+cross[1][0].toFixed(1)+" "+cross[1][1].toFixed(1);
    }
  }
  for(let j=0;j<fineTheta.length-1;j++){
    for(let i=0;i<fineLat.length-1;i++){
      const p00=[xs(fineLat[i]),ys(fineTheta[j]),fine[j][i]];
      const p10=[xs(fineLat[i+1]),ys(fineTheta[j]),fine[j][i+1]];
      const p11=[xs(fineLat[i+1]),ys(fineTheta[j+1]),fine[j+1][i+1]];
      const p01=[xs(fineLat[i]),ys(fineTheta[j+1]),fine[j+1][i]];
      tri(p00,p10,p11);tri(p00,p11,p01);
    }
  }
  return {fill:fill,line:line};
}

const panelSpecs=[
{id:"a",col:0,row:0,field:ageField},
{id:"b",col:1,row:0,bg:jraAgeBackground,fills:jraAgeFills,lines:jraAgeLines,lt:jraAgeLabelText,la:jraAgeLabelLat,lh:jraAgeLabelTheta},
{id:"c",col:2,row:0,bg:merraAgeBackground,fills:merraAgeFills,lines:merraAgeLines,lt:merraAgeLabelText,la:merraAgeLabelLat,lh:merraAgeLabelTheta},
{id:"d",col:0,row:1,field:rcttField},
{id:"e",col:1,row:1,bg:jraRcttBackground,fills:jraRcttFills,lines:jraRcttLines,lt:jraRcttLabelText,la:jraRcttLabelLat,lh:jraRcttLabelTheta,blue:jraRcttBlueSolid,blueDash:jraRcttBlueDashed,bt:jraRcttBlueLabelText,ba:jraRcttBlueLabelLat,bh:jraRcttBlueLabelTheta},
{id:"f",col:2,row:1,bg:merraRcttBackground,fills:merraRcttFills,lines:merraRcttLines,lt:merraRcttLabelText,la:merraRcttLabelLat,lh:merraRcttLabelTheta,blue:merraRcttBlueSolid,blueDash:[],bt:merraRcttBlueLabelText,ba:merraRcttBlueLabelLat,bh:merraRcttBlueLabelTheta},
{id:"g",col:0,row:2,field:mixField,dashes:mixDashedLines,peak:mixPeak},
{id:"h",col:1,row:2,bg:jraMixBackground,fills:jraMixFills,lines:jraMixLines,dashes:jraMixDashed,lt:jraMixLabelText,la:jraMixLabelLat,lh:jraMixLabelTheta},
{id:"i",col:2,row:2,bg:merraMixBackground,fills:merraMixFills,lines:merraMixLines,lt:merraMixLabelText,la:merraMixLabelLat,lh:merraMixLabelTheta}
];

panelSpecs.forEach(function(p){
  const L=columnLeft[p.col],R=columnRight[p.col],T=rowTop[p.row],B=rowBottom[p.row];
  const xs=function(lat){return L+(lat+80)/160*(R-L);};
  const ys=function(th){return B-(th-340)/660*(B-T);};
  const g=node("g",root);
  
  
  const clip=node("clipPath",g);
  clip.setAttribute("id","clip-"+p.id);
  const clipRect=node("rect",clip);
  clipRect.setAttribute("x",L);clipRect.setAttribute("y",T);clipRect.setAttribute("width",R-L);clipRect.setAttribute("height",B-T);
  const plot=node("g",g);
  plot.setAttribute("clip-path","url(#clip-"+p.id+")");
  
  

  const bgRect=node("rect",plot);
  
  
  bgRect.setAttribute("x",L);bgRect.setAttribute("y",T);bgRect.setAttribute("width",R-L);bgRect.setAttribute("height",B-T);
  bgRect.setAttribute("fill",p.field?seqColors[0]:divColor(p.bg));

  if(p.field){
    const fine=refineField(p.field);
    const contours=[];
    for(let k=1;k<=20;k++){
      const paths=fieldPaths(fine,k*0.25,xs,ys);
      const band=node("path",plot);
      
      
      band.setAttribute("d",paths.fill);
      band.setAttribute("fill",seqColors[k]);
      contours.push(paths.line);
    }
    if(p.peak){
      const peak=node("path",plot);
      
      
      peak.setAttribute("d",pathFromPairs(p.peak,xs,ys,true));
      peak.setAttribute("fill",seqColor(mixPeakBandValue));
      peak.setAttribute("stroke","#000");
      peak.setAttribute("stroke-width","1.3");
    }
    const iso=node("path",plot);
    
    
    iso.setAttribute("d",contours.join(""));
    iso.setAttribute("fill","none");
    iso.setAttribute("stroke","#000");
    iso.setAttribute("stroke-width","1.3");
  }else{
    p.fills.forEach(function(f){
      const region=node("path",plot);
      
      
      region.setAttribute("d",pathFromPairs(f[1],xs,ys,true));
      region.setAttribute("fill",divColor(f[0]));
    });
    p.lines.forEach(function(line){
      const iso=node("path",plot);
      
      
      iso.setAttribute("d",pathFromPairs(line,xs,ys,false));
      iso.setAttribute("fill","none");
      iso.setAttribute("stroke","#000");
      iso.setAttribute("stroke-width","1.4");
    });
  }
  (p.dashes||[]).forEach(function(line){
    const dash=node("path",plot);
    
    
    dash.setAttribute("d",pathFromPairs(line,xs,ys,false));
    dash.setAttribute("fill","none");
    dash.setAttribute("stroke","#000");
    dash.setAttribute("stroke-width","1.3");
    dash.setAttribute("stroke-dasharray","6 4");
  });
  (p.blue||[]).forEach(function(line){
    const solid=node("path",plot);
    
    
    solid.setAttribute("d",pathFromPairs(line,xs,ys,false));
    solid.setAttribute("fill","none");
    solid.setAttribute("stroke","#1430d8");
    solid.setAttribute("stroke-width","2.2");
  });
  (p.blueDash||[]).forEach(function(line){
    const dashed=node("path",plot);
    
    
    dashed.setAttribute("d",pathFromPairs(line,xs,ys,false));
    dashed.setAttribute("fill","none");
    dashed.setAttribute("stroke","#1430d8");
    dashed.setAttribute("stroke-width","2.2");
    dashed.setAttribute("stroke-dasharray","9 6");
  });

  pressureLines.forEach(function(line){
    const dotted=node("path",plot);
    
    
    dotted.setAttribute("d",pathFromPairs(line,xs,ys,false));
    dotted.setAttribute("fill","none");
    dotted.setAttribute("stroke","#111");
    dotted.setAttribute("stroke-width","1.4");
    dotted.setAttribute("stroke-dasharray","1.6 3");
  });
  pressureLabelText.forEach(function(txt,i){
    const label=node("text",plot);
    
    
    label.setAttribute("class","iso");
    label.setAttribute("x",xs(pressureLabelLat[i]));
    label.setAttribute("y",ys(pressureLabelTheta[i])+5);
    label.textContent=txt;
  });
  (p.lt||[]).forEach(function(txt,i){
    const label=node("text",plot);
    
    
    label.setAttribute("class","iso");
    label.setAttribute("x",xs(p.la[i]));
    label.setAttribute("y",ys(p.lh[i])+5);
    label.textContent=txt;
  });
  (p.bt||[]).forEach(function(txt,i){
    const label=node("text",plot);
    
    
    label.setAttribute("class","blue");
    label.setAttribute("x",xs(p.ba[i]));
    label.setAttribute("y",ys(p.bh[i])+5);
    label.textContent=txt;
  });

  const tropo=[];
  tropopauseLats.forEach(function(lat,i){tropo.push(lat,tropopauseThetas[i]);});
  const thick=node("path",plot);
  
  
  thick.setAttribute("d",pathFromPairs(tropo,xs,ys,false));
  thick.setAttribute("fill","none");
  thick.setAttribute("stroke","#000");
  thick.setAttribute("stroke-width","6.5");
  thick.setAttribute("stroke-linejoin","round");

  /* frame and ticks */
  let minor="";
  for(let lat=-80;lat<=80;lat+=10){
    const big=lat%50===0,len=big?11:5,x=xs(lat).toFixed(1);
    minor+="M"+x+" "+B+"v-"+len+"M"+x+" "+T+"v"+len;
  }
  for(let th=340;th<=1000;th+=10){
    const big=th%100===0,len=big?11:5,y=ys(th).toFixed(1);
    minor+="M"+L+" "+y+"h"+len+"M"+R+" "+y+"h-"+len;
  }
  const ticks=node("path",g);
  
  
  ticks.setAttribute("d",minor);
  ticks.setAttribute("stroke","#333");
  ticks.setAttribute("stroke-width","1");
  ticks.setAttribute("fill","none");
  const frame=node("rect",g);
  
  
  frame.setAttribute("x",L);frame.setAttribute("y",T);frame.setAttribute("width",R-L);frame.setAttribute("height",B-T);
  frame.setAttribute("fill","none");
  frame.setAttribute("stroke","#444");
  frame.setAttribute("stroke-width","1.4");

  yTickValues.forEach(function(v){
    const label=node("text",g);
    
    
    label.setAttribute("class","tick");
    label.setAttribute("text-anchor","end");
    label.setAttribute("x",tickRightEdge[p.col]);
    label.setAttribute("y",Math.max(ys(v),T+5)+8.5);
    label.textContent=String(v);
  });
  xTickValues.forEach(function(v,i){
    const label=node("text",g);
    
    
    label.setAttribute("class","tick");
    label.setAttribute("text-anchor","middle");
    label.setAttribute("x",xs(v));
    label.setAttribute("y",xTickBaseline[p.row]);
    label.textContent=xTickLabels[i];
  });

  /* colour bar */
  const seq=!!p.field;
  const colors=seq?seqColors:divColors;
  const lo=seq?0:-2.5,hi=seq?5.25:2.5;
  const bs=function(v){return B-(v-lo)/(hi-lo)*(B-T);};
  const bar=node("g",g);
  
  
  colors.forEach(function(c,i){
    const seg=node("rect",bar);
    
    
    const y0=bs(lo+(i+1)*0.25),y1=bs(lo+i*0.25);
    seg.setAttribute("x",barLeft[p.col]);
    seg.setAttribute("y",y0);
    seg.setAttribute("width",barRight[p.col]-barLeft[p.col]);
    seg.setAttribute("height",y1-y0+0.4);
    seg.setAttribute("fill",c);
  });
  const ticksV=seq?seqTickValues:divTickValues,ticksT=seq?seqTickLabels:divTickLabels;
  ticksV.forEach(function(v,i){
    const label=node("text",bar);
    
    
    label.setAttribute("class","tick");
    label.setAttribute("text-anchor",barLabelAnchor[p.col]);
    label.setAttribute("x",barLabelX[p.col]);
    label.setAttribute("y",Math.max(bs(v)-2,T+5)+8.5);
    label.textContent=ticksT[i];
  });
});
</script>
</body>
</html>
